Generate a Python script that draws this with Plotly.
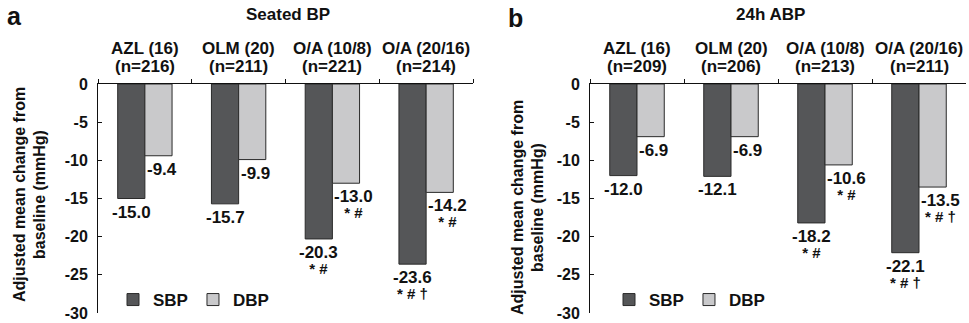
import plotly.graph_objects as go

# ---------------- data ----------------
groups = ["AZL (16)", "OLM (20)", "O/A (10/8)", "O/A (20/16)"]

n_seated = [216, 211, 221, 214]
sbp_seated = [-15.0, -15.7, -20.3, -23.6]
dbp_seated = [-9.4, -9.9, -13.0, -14.2]
sig_sbp_seated = ["", "", "* #", "* # †"]
sig_dbp_seated = ["", "", "* #", "* #"]

n_abpm = [209, 206, 213, 211]
sbp_abpm = [-12.0, -12.1, -18.2, -22.1]
dbp_abpm = [-6.9, -6.9, -10.6, -13.5]
sig_sbp_abpm = ["", "", "* #", "* # †"]
sig_dbp_abpm = ["", "", "* #", "* # †"]

panel_titles = ["Seated BP", "24h ABP"]
panel_letters = ["a", "b"]
series_names = ["SBP", "DBP"]
y_ticks = [0, -5, -10, -15, -20, -25, -30]
y_title_lines = ["Adjusted mean change from", "baseline (mmHg)"]

# ---------------- style ----------------
FONT = "Arial, Liberation Sans, Helvetica, sans-serif"
SBP_COLOR = "#555658"
DBP_COLOR = "#c9c9cb"
EDGE = "#2a2a2a"
TXT = "#111111"
BARGAP = 0.42
BW = (1 - BARGAP) / 2  # width of one bar in category units

W, H = 969, 323
x_domains = [[98 / W, 473 / W], [590 / W, 966 / W]]
y_domain = [10 / H, 239 / H]

panels = [
    dict(n=n_seated, sbp=sbp_seated, dbp=dbp_seated, ss=sig_sbp_seated, sd=sig_dbp_seated),
    dict(n=n_abpm, sbp=sbp_abpm, dbp=dbp_abpm, ss=sig_sbp_abpm, sd=sig_dbp_abpm),
]

fig = go.Figure()
annotations = []

title_x = [288 / W, 770 / W]
letter_pos = [(5 / W, 0.952), (506 / W, 0.944)]
ytitle_x = [(19 / W, 39 / W), (517 / W, 537 / W)]
ytitle_y = [1 - 195 / H, 1 - 208 / H]
legend_x = [113 / W, 609 / W]


def label(v, sig):
    t = "<span style='font-size:17px'>%.1f</span>" % v
    if sig:
        t += "<br><span style='font-size:15px'>%s</span>" % sig
    return t


for p, d in enumerate(panels):
    xa = "x" if p == 0 else "x2"
    ya = "y" if p == 0 else "y2"
    leg = "legend" if p == 0 else "legend2"
    for name, vals, col in [(series_names[0], d["sbp"], SBP_COLOR),
                            (series_names[1], d["dbp"], DBP_COLOR)]:
        fig.add_trace(go.Bar(
            x=groups, y=vals, name=name, xaxis=xa, yaxis=ya, legend=leg,
            marker=dict(color=col, line=dict(color=EDGE, width=1)),
            hoverinfo="skip",
        ))

    for i in range(len(groups)):
        sv, dv = d["sbp"][i], d["dbp"][i]
        annotations.append(dict(
            x=i - BW / 2, y=sv, xref=xa, yref=ya, text=label(sv, d["ss"][i]),
            showarrow=False, xanchor="center", yanchor="top", yshift=-2, align="center",
            font=dict(family=FONT, size=12.5, color=TXT, weight="bold")))
        annotations.append(dict(
            x=i, y=dv, xref=xa, yref=ya, text=label(dv, d["sd"][i]),
            showarrow=False, xanchor="left", yanchor="top", yshift=-2, align="center",
            font=dict(family=FONT, size=12.5, color=TXT, weight="bold")))
        annotations.append(dict(
            x=i, y=1 - 49 / H, xref=xa, yref="paper", text=groups[i], showarrow=False,
            xanchor="center", yanchor="middle",
            font=dict(family=FONT, size=17, color=TXT, weight="bold")))
        annotations.append(dict(
            x=i, y=1 - 66 / H, xref=xa, yref="paper", text="(n=%d)" % d["n"][i],
            showarrow=False, xanchor="center", yanchor="middle",
            font=dict(family=FONT, size=17, color=TXT, weight="bold")))

    annotations.append(dict(
        x=title_x[p], y=1 - 15 / H, xref="paper", yref="paper", text=panel_titles[p],
        showarrow=False, xanchor="center", yanchor="middle",
        font=dict(family=FONT, size=17, color=TXT, weight="bold")))
    annotations.append(dict(
        x=letter_pos[p][0], y=letter_pos[p][1], xref="paper", yref="paper",
        text=panel_letters[p], showarrow=False, xanchor="left", yanchor="middle",
        font=dict(family=FONT, size=25, color=TXT, weight="bold")))
    for k, line in enumerate(y_title_lines):
        annotations.append(dict(
            x=ytitle_x[p][k], y=ytitle_y[p], xref="paper", yref="paper",
            text=line, showarrow=False, xanchor="center", yanchor="middle",
            textangle=-90,
            font=dict(family=FONT, size=16, color=TXT, weight="bold")))

xaxis_common = dict(
    side="top", showline=True, linecolor=TXT, linewidth=1,
    ticks="outside", ticklen=4, tickcolor=TXT, tickson="boundaries",
    showticklabels=False, showgrid=False, zeroline=False, automargin=False,
    fixedrange=True,
)
yaxis_common = dict(
    range=[-30, 0], tickvals=y_ticks, ticktext=[str(t) for t in y_ticks],
    showline=True, linecolor=TXT, linewidth=1,
    ticks="inside", ticklen=4, tickcolor=TXT, ticklabelstandoff=6,
    tickfont=dict(family=FONT, size=16, color=TXT, weight="bold"),
    showgrid=False, zeroline=False, automargin=False, domain=y_domain,
    fixedrange=True,
)

legend_common = dict(
    orientation="h", yanchor="middle", y=1 - 300 / H, xanchor="left",
    font=dict(family=FONT, size=17, color=TXT, weight="bold"),
    bgcolor="rgba(0,0,0,0)", itemwidth=30,
    itemclick=False, itemdoubleclick=False,
)

fig.update_layout(
    width=W, height=H,
    margin=dict(l=0, r=0, t=0, b=0),
    paper_bgcolor="white", plot_bgcolor="white",
    barmode="group", bargap=BARGAP, bargroupgap=0,
    font=dict(family=FONT, color=TXT),
    xaxis=dict(domain=x_domains[0], anchor="y", **xaxis_common),
    xaxis2=dict(domain=x_domains[1], anchor="y2", **xaxis_common),
    yaxis=dict(anchor="x", **yaxis_common),
    yaxis2=dict(anchor="x2", **yaxis_common),
    legend=dict(x=legend_x[0], **legend_common),
    legend2=dict(x=legend_x[1], **legend_common),
    annotations=annotations,
    showlegend=True,
)

fig.write_html("out.html")
